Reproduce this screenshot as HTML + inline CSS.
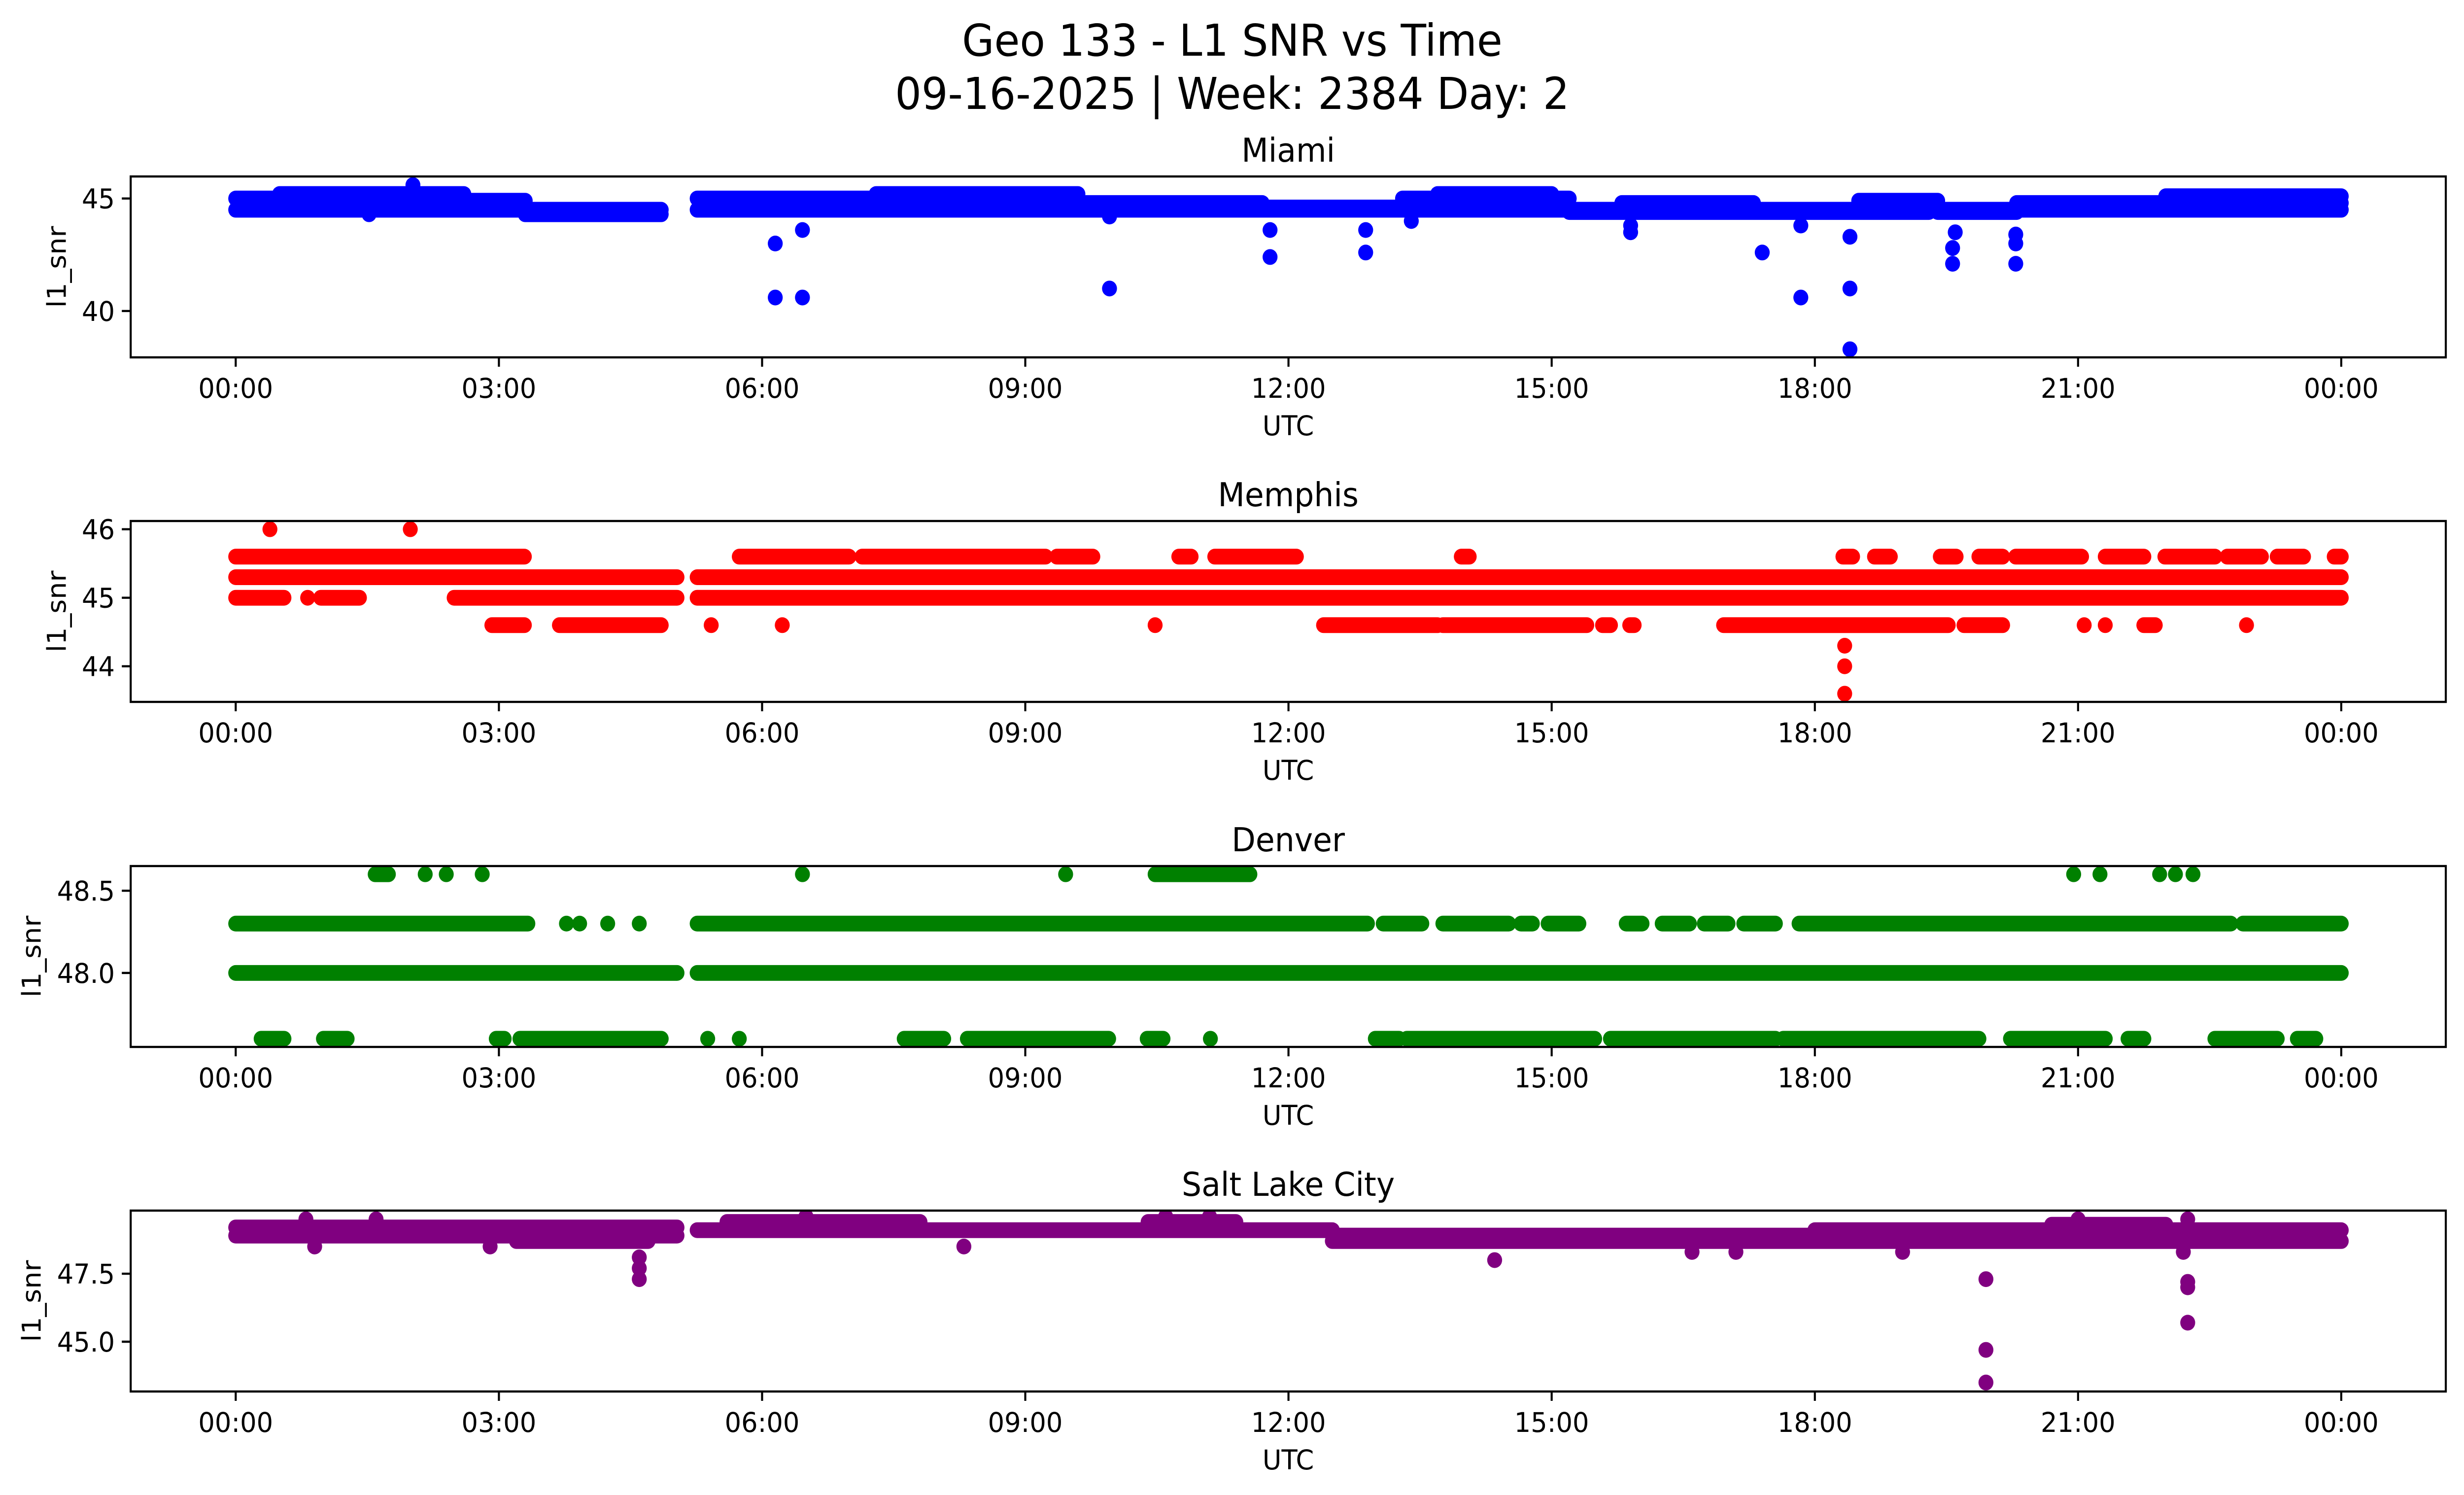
<!DOCTYPE html>
<html><head><meta charset="utf-8">
<style>
html,body{margin:0;padding:0;background:#fff;width:100%;height:100%;overflow:hidden;}
svg{display:block;width:100vw;height:100vh;font-family:"DejaVu Sans","Liberation Sans",sans-serif;}
</style></head>
<body>
<svg id="fig" viewBox="0 0 5279 3033" preserveAspectRatio="none" xmlns="http://www.w3.org/2000/svg">
<rect width="5279" height="3033" fill="#fff"/>
<text x="2640" y="113" font-size="89" text-anchor="middle">Geo 133 - L1 SNR vs Time</text>
<text x="2640" y="221" font-size="89" text-anchor="middle">09-16-2025 | Week: 2384 Day: 2</text>
</svg>
<script>
// ---- data (hours UTC, SNR values) ----
const xTickLabels = ["00:00","03:00","06:00","09:00","12:00","15:00","18:00","21:00","00:00"];
const xTickHours = [0,3,6,9,12,15,18,21,24];
const stationNames = ["Miami","Memphis","Denver","Salt Lake City"];
const stationColors = ["#0000ff","#ff0000","#008000","#800080"];
const yLimMiami = [37.94, 45.98];
const yLimMemphis = [43.48, 46.12];
const yLimDenver = [47.55, 48.65];
const yLimSLC = [43.17, 49.82];
const yTicksMiami = [40, 45];
const yTicksMemphis = [44, 45, 46];
const yTicksDenver = [48.0, 48.5];
const yTicksSLC = [45.0, 47.5];
const yTickLabelsMiami = ["40","45"];
const yTickLabelsMemphis = ["44","45","46"];
const yTickLabelsDenver = ["48.0","48.5"];
const yTickLabelsSLC = ["45.0","47.5"];
// runs: [startHour, endHour, value] – continuous streaks of samples
const runsMiami = [
 [0,2.5,44.5],[0,2.5,45.0],[0.5,2.6,45.2],[2.5,4.85,44.5],[2.5,3.3,44.9],[3.3,4.85,44.3],
 [5.26,24,44.5],[5.26,9.5,45.0],[7.3,9.6,45.2],[9.6,11.7,44.8],[11.7,13.3,44.6],[13.3,15.2,45.0],
 [13.7,15.0,45.2],[15.2,19.3,44.4],[15.8,17.3,44.8],[18.5,19.4,44.9],[19.4,20.3,44.4],[20.3,24,44.8],[22.0,24,45.1]
];
const pointsMiami = [
 [1.52,44.3],[2.02,45.6],[6.15,43.0],[6.15,40.6],[6.46,43.6],[6.46,40.6],[9.96,41.0],
 [11.79,42.4],[11.79,43.6],[12.88,42.6],[12.88,43.6],[17.4,42.6],[17.84,40.6],[17.84,43.8],
 [18.4,41.0],[18.4,38.3],[18.4,43.3],[19.57,42.1],[19.57,42.8],[19.6,43.5],[20.29,42.1],[20.29,43.0],[20.29,43.4],
 [15.9,43.5],[15.9,43.8],[13.4,44.0],[9.96,44.2]
];
const runsMemphis = [
 [0,3.29,45.6],[5.74,6.99,45.6],[7.14,9.23,45.6],[9.36,9.77,45.6],[10.75,10.89,45.6],[11.16,12.09,45.6],
 [13.97,14.06,45.6],[18.32,18.43,45.6],[18.68,18.86,45.6],[19.43,19.61,45.6],[19.87,20.14,45.6],
 [20.29,21.04,45.6],[21.31,21.75,45.6],[21.99,22.56,45.6],[22.7,23.09,45.6],[23.27,23.57,45.6],[23.92,24,45.6],
 [0,5.03,45.3],[5.26,24,45.3],
 [0,0.55,45.0],[0.97,1.41,45.0],[2.49,5.03,45.0],[5.26,24,45.0],
 [2.92,3.29,44.6],[3.69,4.85,44.6],[12.4,13.7,44.6],[13.76,15.4,44.6],[15.58,15.67,44.6],[15.89,15.94,44.6],
 [16.96,19.52,44.6],[19.7,20.14,44.6],[21.07,21.07,44.6],[21.31,21.31,44.6],[21.75,21.88,44.6],[22.92,22.92,44.6]
];
const pointsMemphis = [[0.39,46.0],[1.99,46.0],[0.82,45.0],[5.42,44.6],[6.23,44.6],[10.48,44.6],[18.34,44.3],[18.34,44.0],[18.34,43.6]];
const runsDenver = [
 [0,5.03,48.0],[5.26,24,48.0],
 [0,3.33,48.3],[5.26,12.9,48.3],[13.08,13.52,48.3],[13.76,14.51,48.3],[14.65,14.78,48.3],[14.96,15.31,48.3],
 [15.85,16.03,48.3],[16.26,16.57,48.3],[16.74,17.01,48.3],[17.19,17.55,48.3],[17.82,22.74,48.3],[22.88,24,48.3],
 [0.29,0.55,47.6],[1.0,1.27,47.6],[2.97,3.06,47.6],[3.24,4.85,47.6],[7.62,8.07,47.6],[8.34,9.95,47.6],
 [10.39,10.57,47.6],[12.99,13.26,47.6],[13.35,15.49,47.6],[15.67,17.55,47.6],[17.64,19.87,47.6],
 [20.23,21.31,47.6],[21.57,21.75,47.6],[22.56,23.27,47.6],[23.5,23.71,47.6],
 [10.48,11.56,48.6],[1.59,1.74,48.6]
];
const pointsDenver = [
 [3.77,48.3],[3.92,48.3],[4.24,48.3],[4.6,48.3],[5.38,47.6],[5.74,47.6],[11.11,47.6],
 [2.16,48.6],[2.40,48.6],[2.81,48.6],[6.46,48.6],[9.46,48.6],[20.95,48.6],[21.25,48.6],
 [21.93,48.6],[22.11,48.6],[22.31,48.6]
];
const runsSLC = [
 [0,5.03,49.2],[0,3.2,48.9],[3.2,4.7,48.7],[4.7,5.03,48.9],[5.26,12.5,49.1],[5.6,7.8,49.4],[10.4,11.4,49.4],
 [12.5,24,48.7],[12.5,18.0,48.9],[18.0,24,49.1],[20.7,22.0,49.3]
];
const pointsSLC = [
 [0.8,49.5],[0.9,48.5],[1.6,49.5],[2.9,48.5],[4.6,48.1],[4.6,47.7],[4.6,47.3],[6.5,49.6],[8.3,48.5],
 [10.6,49.6],[11.1,49.6],[14.35,48.0],[16.6,48.3],[17.1,48.3],[19.0,48.3],[19.95,47.3],[19.95,44.7],
 [19.95,43.5],[21.0,49.5],[22.25,49.5],[22.25,47.2],[22.25,47.0],[22.25,45.7],[22.2,48.3]
];
const panelRuns = [runsMiami, runsMemphis, runsDenver, runsSLC];
const panelPoints = [pointsMiami, pointsMemphis, pointsDenver, pointsSLC];
const panelYLims = [yLimMiami, yLimMemphis, yLimDenver, yLimSLC];
const panelYTicks = [yTicksMiami, yTicksMemphis, yTicksDenver, yTicksSLC];
const panelYTickLabels = [yTickLabelsMiami, yTickLabelsMemphis, yTickLabelsDenver, yTickLabelsSLC];

// ---- layout ----
const NS = "http://www.w3.org/2000/svg";
const fig = document.getElementById("fig");
const AX_L = 280, AX_R = 5240, AX_H = 367;
const PANEL_TOPS = [358, 1057, 1757, 2456];
const YLABEL_X = [121, 121, 67, 67];
const X0 = 505, PX_PER_H = (5016 - 505) / 24;
const R = 16;
function xScale(h){ return X0 + h * PX_PER_H; }
function mk(tag, attrs, parent){
  const e = document.createElementNS(NS, tag);
  for (const k in attrs) e.setAttribute(k, attrs[k]);
  (parent || fig).appendChild(e);
  return e;
}
const slug = ["miami","memphis","denver","salt-lake-city"];
for (let p = 0; p < 4; p++) {
  const top = PANEL_TOPS[p], bot = top + AX_H;
  const [y0, y1] = panelYLims[p];
  const yScale = v => bot - (v - y0) / (y1 - y0) * AX_H;
  const g = mk("g", {});
  
  
  const clipId = "clip" + p;
  const cp = mk("clipPath", {id: clipId}, g);
  mk("rect", {x: AX_L, y: top, width: AX_R - AX_L, height: AX_H}, cp);
  const marks = mk("g", {"clip-path": "url(#" + clipId + ")"}, g);
  
  
  const col = stationColors[p];
  panelRuns[p].forEach(r => {
    const ln = mk("line", {x1: xScale(r[0]), x2: xScale(r[1]), y1: yScale(r[2]), y2: yScale(r[2]),
      stroke: col, "stroke-width": 2 * R, "stroke-linecap": "round"}, marks);
    
    
  });
  panelPoints[p].forEach(pt => {
    const c = mk("circle", {cx: xScale(pt[0]), cy: yScale(pt[1]), r: R, fill: col}, marks);
    
    
  });
  const frame = mk("rect", {x: AX_L, y: top, width: AX_R - AX_L, height: AX_H, fill: "none", stroke: "#000", "stroke-width": 4.4}, g);
  
  
  xTickHours.forEach((h, i) => {
    const x = xScale(h);
    mk("line", {x1: x, x2: x, y1: bot, y2: bot + 19, stroke: "#000", "stroke-width": 4.4}, g);
    const t = mk("text", {x: x, y: bot + 82, "font-size": 55.6, "text-anchor": "middle"}, g);
    t.textContent = xTickLabels[i];
    
    
  });
  panelYTicks[p].forEach((v, i) => {
    const y = yScale(v);
    mk("line", {x1: AX_L - 19, x2: AX_L, y1: y, y2: y, stroke: "#000", "stroke-width": 4.4}, g);
    const t = mk("text", {x: AX_L - 34, y: y + 20, "font-size": 55.6, "text-anchor": "end"}, g);
    t.textContent = panelYTickLabels[p][i];
    
    
  });
  const xl = mk("text", {x: (AX_L + AX_R) / 2, y: bot + 158, "font-size": 55.6, "text-anchor": "middle"}, g);
  xl.textContent = "UTC";
  
  
  const yc = top + AX_H / 2;
  const yl = mk("text", {x: YLABEL_X[p] + 20, y: yc, "font-size": 55.6, "text-anchor": "middle",
    transform: "rotate(-90 " + (YLABEL_X[p] + 20) + " " + yc + ")"}, g);
  yl.textContent = "l1_snr";
  
  
  const tt = mk("text", {x: (AX_L + AX_R) / 2, y: top - 30, "font-size": 66.7, "text-anchor": "middle"}, g);
  tt.textContent = stationNames[p];
  
  
}
</script>
</body></html>
